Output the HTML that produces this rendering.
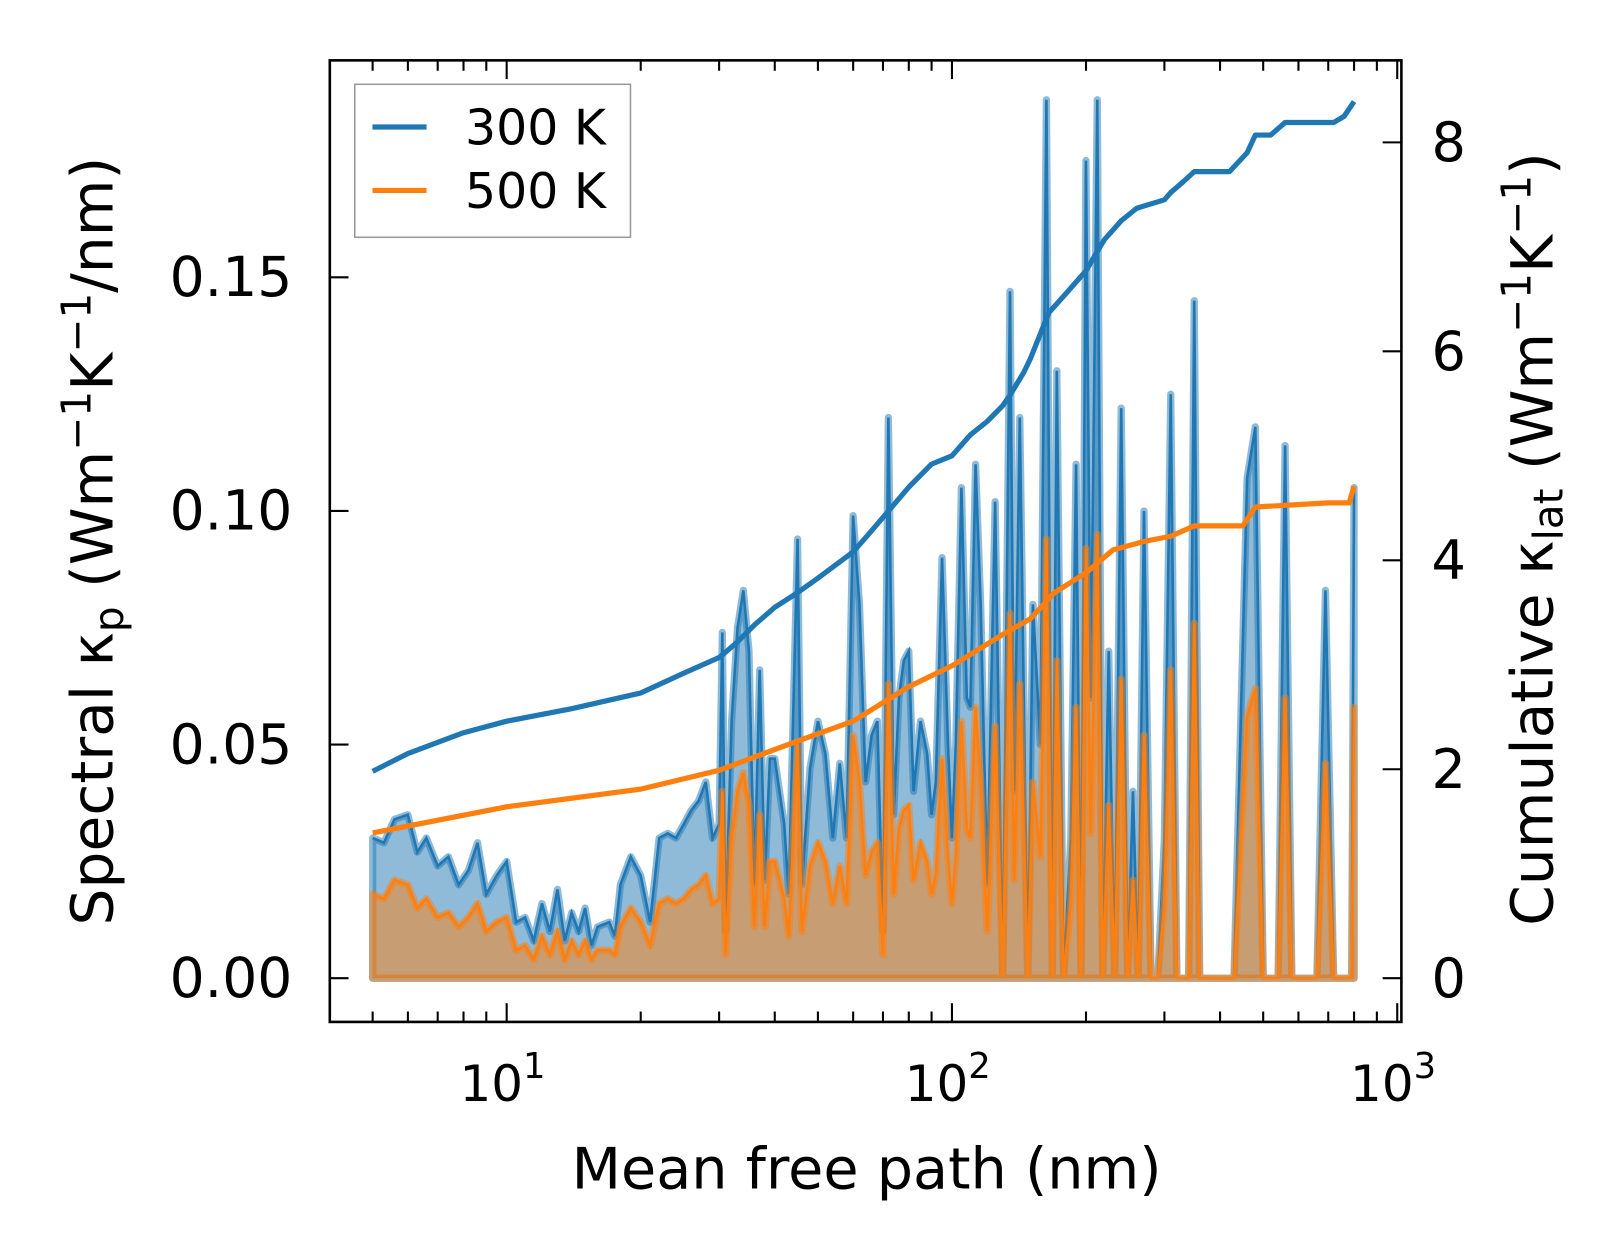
<!DOCTYPE html>
<html><head><meta charset="utf-8"><style>html,body{margin:0;padding:0;background:#fff}svg{display:block}text{font-family:"DejaVu Sans","Liberation Sans",sans-serif;fill:#000}</style></head>
<body>
<svg id="chart" width="1623" height="1254" viewBox="0 0 1560 1205" preserveAspectRatio="none" xmlns="http://www.w3.org/2000/svg">
<g id="plot"></g>
</svg>
<script>
const mfp=[5,5.3,5.6,6,6.3,6.6,7,7.4,7.8,8.2,8.6,9,9.5,10,10.5,11,11.5,12,12.5,13,13.5,14,14.5,15,15.5,16,17,17.5,18,19,20,21,22,23,24,25,26,27,28,29,30,30.5,31,32,33,34,35,36,37,38,39,40,42,43,45,46,48,50,52,54,56,58,60,62,64,66,68,70,72,74,76,78,80,82,85,88,90,92,95,98,100,102,105,108,110,113,116,120,125,130,135,138,142,148,152,158,163,168,172,178,185,190,195,200,205,212,218,225,232,240,248,255,262,270,280,290,300,310,320,340,350,360,380,400,430,460,480,500,540,560,580,620,660,690,720,760,790,800];
const spec300=[0.030,0.029,0.034,0.035,0.027,0.030,0.024,0.026,0.020,0.023,0.029,0.018,0.022,0.025,0.012,0.013,0.008,0.016,0.010,0.019,0.008,0.014,0.010,0.015,0.007,0.011,0.012,0.009,0.020,0.026,0.022,0.012,0.030,0.031,0.030,0.033,0.036,0.038,0.042,0.030,0.033,0.074,0.010,0.055,0.075,0.083,0.070,0.020,0.066,0.021,0.047,0.047,0.033,0.018,0.094,0.020,0.045,0.055,0.048,0.030,0.046,0.030,0.099,0.080,0.042,0.052,0.055,0.010,0.120,0.035,0.060,0.068,0.070,0.040,0.055,0.048,0.035,0.042,0.090,0.050,0.030,0.050,0.105,0.060,0.058,0.110,0.080,0.020,0.102,0.0,0.147,0.040,0.120,0.0,0.080,0.050,0.188,0.0,0.130,0.0,0.030,0.110,0.0,0.175,0.060,0.188,0.0,0.070,0.0,0.122,0.0,0.040,0.0,0.100,0.0,0.0,0.030,0.125,0.0,0.0,0.145,0.0,0.0,0.0,0.0,0.107,0.118,0.0,0.0,0.114,0.0,0.0,0.0,0.083,0.0,0.0,0.0,0.105];
const spec500=[0.018,0.017,0.021,0.020,0.015,0.017,0.013,0.014,0.011,0.013,0.016,0.010,0.012,0.013,0.006,0.007,0.004,0.009,0.005,0.010,0.004,0.008,0.005,0.008,0.004,0.006,0.006,0.005,0.011,0.015,0.012,0.007,0.016,0.017,0.016,0.017,0.019,0.020,0.022,0.016,0.017,0.040,0.005,0.030,0.040,0.044,0.037,0.011,0.035,0.011,0.025,0.025,0.017,0.009,0.050,0.010,0.024,0.029,0.025,0.016,0.024,0.016,0.052,0.042,0.022,0.027,0.029,0.005,0.063,0.018,0.032,0.036,0.037,0.021,0.029,0.025,0.018,0.022,0.047,0.026,0.016,0.026,0.055,0.032,0.030,0.058,0.042,0.010,0.054,0,0.078,0.021,0.063,0,0.042,0.026,0.094,0,0.068,0,0.016,0.058,0,0.092,0.031,0.095,0,0.037,0,0.064,0,0.021,0,0.052,0,0,0.016,0.066,0,0,0.076,0,0,0,0,0.056,0.062,0,0,0.060,0,0,0,0.046,0,0,0,0.058];
const cumX300=[5,6,8,10,14,20,25,30,31,33,36,40,45,50,60,65,70,80,90,100,110,120,130,135,145,150,165,180,200,215,220,240,260,300,310,330,350,420,460,480,520,560,720,760,800];
const cum300=[1.98,2.15,2.35,2.46,2.58,2.73,2.92,3.07,3.12,3.22,3.38,3.55,3.69,3.83,4.08,4.25,4.41,4.70,4.92,5.00,5.20,5.33,5.48,5.58,5.80,5.93,6.37,6.55,6.77,7.00,7.07,7.25,7.37,7.45,7.52,7.62,7.72,7.72,7.90,8.07,8.07,8.19,8.19,8.25,8.39];
const cumX500=[5,10,20,30,45,60,80,100,130,150,170,200,230,270,310,350,450,480,700,780,800];
const cum500=[1.39,1.64,1.81,1.99,2.27,2.46,2.79,2.99,3.29,3.44,3.69,3.88,4.10,4.18,4.23,4.33,4.33,4.51,4.55,4.55,4.71];
const xTicks=[10,100,1000];
const xTickExp=["1","2","3"];
const yTicksL=[0,0.05,0.10,0.15];
const yTickLabelsL=["0.00","0.05","0.10","0.15"];
const yTicksR=[0,2,4,6,8];

const L=317,R=1347,T=58,B=982;
const X=v=>487+428*Math.log10(v/10);
const YL=v=>940-4490*v;
const YR=v=>940-100.4*v;
const NS="http://www.w3.org/2000/svg";
const g=document.getElementById('plot');
function mk(tag,attrs,parent){const e=document.createElementNS(NS,tag);for(const k in attrs)e.setAttribute(k,attrs[k]);(parent||g).appendChild(e);return e;}
function ptsStr(xs,ys,f){return xs.map((x,i)=>X(x).toFixed(1)+','+f(ys[i]).toFixed(1)).join(' ');}

const fills=[[spec300,'rgba(31,119,180,0.5)','#1f77b4','fill-300k','spectral-line-300k'],[spec500,'rgba(255,127,14,0.5)','#ff7f0e','fill-500k','spectral-line-500k']];
fills.forEach(([arr,fc,lc,fn,ln])=>{
  const p=ptsStr(mfp,arr,YL)+` ${X(mfp[mfp.length-1]).toFixed(1)},${YL(0)} ${X(mfp[0]).toFixed(1)},${YL(0)}`;
  const poly=mk('polygon',{points:p,fill:fc,stroke:fc,'stroke-width':7,'stroke-linejoin':'round'});
  
  
  const line=mk('polyline',{points:ptsStr(mfp,arr,YL),fill:'none',stroke:lc,'stroke-width':2.5});
  
  
});
[[cumX300,cum300,'#1f77b4','cumulative-line-300k'],[cumX500,cum500,'#ff7f0e','cumulative-line-500k']].forEach(([xs,ys,c,n])=>{
  const l=mk('polyline',{points:ptsStr(xs,ys,YR),fill:'none',stroke:c,'stroke-width':5,'stroke-linejoin':'round'});
  
  
});
const fr=mk('rect',{x:L,y:T,width:R-L,height:B-T,fill:'none',stroke:'#000','stroke-width':2.5});


for(let d=1;d<=1000;d*=10){for(let m=1;m<10;m++){const v=d*m;const x=X(v);if(x<L||x>R)continue;const maj=m===1;const len=maj?18:10;
  mk('line',{x1:x,y1:B,x2:x,y2:B-len,stroke:'#000','stroke-width':2});mk('line',{x1:x,y1:T,x2:x,y2:T+len,stroke:'#000','stroke-width':2});}}
xTicks.forEach((v,i)=>{const t=mk('text',{x:X(v)-4,y:1058,'font-size':48,'text-anchor':'middle'});t.textContent='10';
  const s=mk('tspan',{dy:-22,'font-size':34},t);s.textContent=xTickExp[i];
  
  });
yTicksL.forEach((v,i)=>{const y=YL(v);mk('line',{x1:L,y1:y,x2:L+18,y2:y,stroke:'#000','stroke-width':2});
  const t=mk('text',{x:281,y:y+18,'font-size':53,'text-anchor':'end'});t.textContent=yTickLabelsL[i];
  
  });
yTicksR.forEach(v=>{const y=YR(v);mk('line',{x1:R,y1:y,x2:R-18,y2:y,stroke:'#000','stroke-width':2});
  const t=mk('text',{x:1376,y:y+18,'font-size':52}); t.textContent=String(v);
  
  });
</script>
<svg style="position:absolute;left:0;top:0" width="1623" height="1254" viewBox="0 0 1560 1205" preserveAspectRatio="none" xmlns="http://www.w3.org/2000/svg">
<text x="833" y="1142" font-size="55" text-anchor="middle">Mean free path (nm)</text>
<text transform="translate(108,520) rotate(-90)" font-size="56" text-anchor="middle">Spectral κ<tspan dy="10" font-size="39">p</tspan><tspan dy="-10"> (Wm</tspan><tspan dy="-21" font-size="39">−1</tspan><tspan dy="21">K</tspan><tspan dy="-21" font-size="39">−1</tspan><tspan dy="21">/nm)</tspan></text>
<text transform="translate(1492,518) rotate(-90)" font-size="56" text-anchor="middle">Cumulative κ<tspan dy="10" font-size="39">lat</tspan><tspan dy="-10"> (Wm</tspan><tspan dy="-21" font-size="39">−1</tspan><tspan dy="21">K</tspan><tspan dy="-21" font-size="39">−1</tspan><tspan dy="21">)</tspan></text>
<g>
<rect x="341" y="81" width="265" height="147" fill="rgba(255,255,255,0.8)" stroke="#999" stroke-width="1.5"/>
<line x1="358" y1="122" x2="410" y2="122" stroke="#1f77b4" stroke-width="5"/>
<text x="447" y="139" font-size="47">300 K</text>
<line x1="358" y1="183" x2="410" y2="183" stroke="#ff7f0e" stroke-width="5"/>
<text x="447" y="200" font-size="47">500 K</text>
</g>
</svg>
</body></html>
